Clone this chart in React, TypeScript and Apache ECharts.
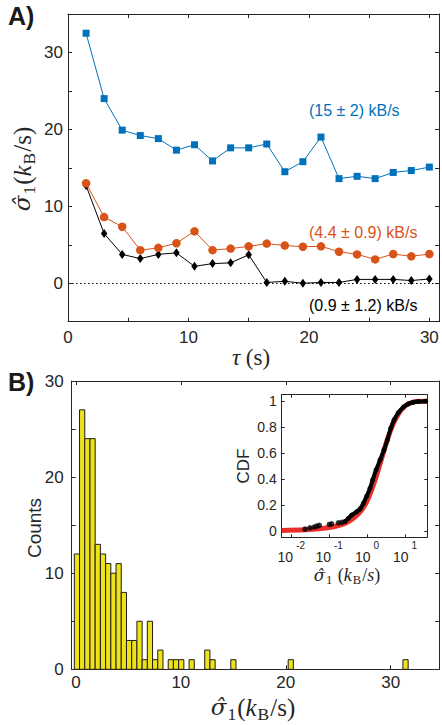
import React, { useEffect, useRef } from 'react';
import * as echarts from 'echarts';

// ---------- Panel A data ----------
const tau = [1.5, 3, 4.5, 6, 7.5, 9, 10.5, 12, 13.5, 15, 16.5, 18, 19.5, 21, 22.5, 24, 25.5, 27, 28.5, 30];
const blueVals = [32.5, 24.0, 19.9, 19.2, 18.8, 17.3, 18.0, 15.9, 17.6, 17.6, 18.1, 14.5, 15.8, 19.0, 13.6, 13.9, 13.6, 14.4, 14.65, 15.1];
const orangeVals = [13.0, 8.6, 7.35, 4.3, 4.6, 5.2, 6.75, 4.3, 4.5, 4.8, 5.15, 4.9, 4.75, 4.8, 4.1, 3.75, 3.1, 3.8, 3.5, 3.8];
const blackVals = [12.7, 6.45, 3.75, 3.2, 3.75, 3.95, 2.2, 2.55, 2.65, 3.7, 0.1, 0.25, 0.0, 0.1, 0.1, 0.5, 0.5, 0.5, 0.35, 0.55];
const annotations = ['(15 ± 2) kB/s', '(4.4 ± 0.9) kB/s', '(0.9 ± 1.2) kB/s'];

// ---------- Panel B histogram ----------
const histStart = -0.15;
const histBinWidth = 0.497;
const histCounts = [
  12, 27, 24, 24, 13, 12, 11, 10, 11, 8,
  3, 3, 5, 1, 5, 1, 2, 0, 1, 1,
  1, 0, 1, 0, 0, 2, 1, 0, 0, 0,
  1, 0, 0, 0, 0, 0, 0, 0, 0, 0,
  0, 1, 0, 0, 0, 0, 0, 0, 0, 0,
  0, 0, 0, 0, 0, 0, 0, 0, 0, 0,
  0, 0, 0, 1,
];

// ---------- Inset CDF ----------
const cdfSparseX = [0.023, 0.031, 0.040, 0.047, 0.055, 0.101, 0.116, 0.174, 0.214];
const cdfSparseY = [0.013, 0.023, 0.029, 0.036, 0.042, 0.049, 0.054, 0.062, 0.065];
const cdfDenseX = [0.261, 0.319, 0.39, 0.53, 0.65, 0.794, 0.977, 1.19, 1.40, 1.72, 2.19, 2.79, 3.41, 4.20, 5.13, 6.65, 9.02, 12.2, 16.6, 22.4, 35.2];
const cdfDenseY = [0.072, 0.096, 0.121, 0.147, 0.168, 0.212, 0.268, 0.328, 0.392, 0.469, 0.546, 0.624, 0.70, 0.791, 0.855, 0.912, 0.954, 0.979, 0.992, 0.997, 1.0];
const fitX = [0.0056, 0.023, 0.056, 0.128, 0.261, 0.433, 0.72, 1.07, 1.62, 2.43, 3.63, 5.45, 8.2, 12.2, 20.0, 38.7];
const fitY = [0.003, 0.008, 0.016, 0.031, 0.057, 0.096, 0.16, 0.25, 0.392, 0.56, 0.727, 0.855, 0.938, 0.979, 0.997, 1.0];

const SANS = '"Liberation Sans", Arial, Helvetica, sans-serif';
const SERIF = '"Liberation Serif", "Times New Roman", serif';
const HATSERIF = '"DejaVu Serif", "Liberation Serif", serif';
const AX = '#262626';
const BLUE = '#0072BD';
const ORANGE = '#D95319';

const tens = (v: number) => (Math.abs(v / 10 - Math.round(v / 10)) < 1e-6 ? String(Math.round(v)) : '');
const fifths = (v: number) => {
  const r = Math.round(v * 5);
  return Math.abs(v * 5 - r) < 1e-6 ? String(r / 5) : '';
};
const pow10 = (v: number) => {
  const e = Math.log10(v);
  const r = Math.round(e);
  return Math.abs(e - r) < 1e-6 ? `{b|10}{e|${r}}` : '';
};

const frame = (o: any) => ({
  splitLine: { show: false },
  ...o,
  axisLine: { show: true, onZero: false, lineStyle: { color: AX, width: 1 } },
  axisTick: { show: true, inside: true, length: o.tickLen || 4, lineStyle: { color: AX, width: 1 } },
});

const latexRich = (fs: number) => ({
  h: { fontFamily: HATSERIF, fontStyle: 'italic', fontSize: fs * 0.92, lineHeight: fs * 1.3, fill: AX, color: AX },
  i: { fontFamily: SERIF, fontStyle: 'italic', fontSize: fs, lineHeight: fs * 1.3, fill: AX, color: AX },
  n: { fontFamily: SERIF, fontSize: fs, lineHeight: fs * 1.3, fill: AX, color: AX },
  s: { fontFamily: SERIF, fontSize: fs * 0.7, lineHeight: fs * 0.7, verticalAlign: 'bottom', fill: AX, color: AX, padding: [0, 1, 0, 1] },
});

export default function App() {
  const ref = useRef<HTMLDivElement>(null);
  useEffect(() => {
    if (!ref.current) return;
    const chart = echarts.init(ref.current, null, { renderer: 'svg' });

    const histData = histCounts.map((c, i) => [histStart + i * histBinWidth, histStart + (i + 1) * histBinWidth, c]);

    const option: any = {
      animation: false,
      backgroundColor: '#fff',
      grid: [
        { left: 68, top: 14, width: 373.5, height: 307.7 },
        { left: 71.7, top: 381, width: 370.3, height: 288.3 },
        { left: 281.7, top: 394.7, width: 145.6, height: 142.6, show: true, backgroundColor: '#fff', borderWidth: 0 },
      ],
      xAxis: [
        frame({ type: 'value', gridIndex: 0, position: 'bottom', min: 0, max: 30.8, interval: 5,
          axisLabel: { show: true, formatter: tens, fontSize: 17, color: AX, fontFamily: SANS, margin: 7 } }),
        frame({ type: 'value', gridIndex: 0, position: 'top', min: 0, max: 30.8, interval: 5, axisLabel: { show: false } }),
        frame({ type: 'value', gridIndex: 1, position: 'bottom', min: -0.4, max: 34.6, minInterval: 10, maxInterval: 10,
          axisLabel: { show: true, formatter: tens, fontSize: 17, color: AX, fontFamily: SANS, margin: 5 } }),
        frame({ type: 'value', gridIndex: 1, position: 'top', min: -0.4, max: 34.6, minInterval: 10, maxInterval: 10, axisLabel: { show: false } }),
        frame({ type: 'log', logBase: 10, gridIndex: 2, position: 'bottom', min: 0.00558, max: 38.7, tickLen: 3,
          axisLabel: { show: true, formatter: pow10, margin: 3,
            rich: {
              b: { fontSize: 14, fontFamily: SANS, color: AX, lineHeight: 24, verticalAlign: 'bottom' },
              e: { fontSize: 10, fontFamily: SANS, color: AX, lineHeight: 9, verticalAlign: 'top', padding: [0, 0, 0, 3] },
            } } }),
        frame({ type: 'log', logBase: 10, gridIndex: 2, position: 'top', min: 0.00558, max: 38.7, tickLen: 3, axisLabel: { show: false } }),
      ],
      yAxis: [
        frame({ type: 'value', gridIndex: 0, position: 'left', min: -5, max: 35, interval: 5,
          axisLabel: { show: true, formatter: tens, fontSize: 17, color: AX, fontFamily: SANS, margin: 5 } }),
        frame({ type: 'value', gridIndex: 0, position: 'right', min: -5, max: 35, interval: 5, axisLabel: { show: false } }),
        frame({ type: 'value', gridIndex: 1, position: 'left', min: 0, max: 30, interval: 5,
          axisLabel: { show: true, formatter: tens, fontSize: 17, color: AX, fontFamily: SANS, margin: 8 } }),
        frame({ type: 'value', gridIndex: 1, position: 'right', min: 0, max: 30, interval: 5, axisLabel: { show: false } }),
        frame({ type: 'value', gridIndex: 2, position: 'left', min: -0.05, max: 1.05, minInterval: 0.2, maxInterval: 0.2, tickLen: 3,
          axisLabel: { show: true, formatter: fifths, fontSize: 14, color: AX, fontFamily: SANS, margin: 5 } }),
        frame({ type: 'value', gridIndex: 2, position: 'right', min: -0.05, max: 1.05, minInterval: 0.2, maxInterval: 0.2, tickLen: 3, axisLabel: { show: false } }),
      ],
      series: [
        {
          type: 'line', xAxisIndex: 0, yAxisIndex: 0,
          data: tau.map((t, i) => [t, blueVals[i]]),
          symbol: 'rect', symbolSize: 7, showSymbol: true,
          lineStyle: { color: BLUE, width: 1 }, itemStyle: { color: BLUE },
        },
        {
          type: 'line', xAxisIndex: 0, yAxisIndex: 0,
          data: tau.map((t, i) => [t, orangeVals[i]]),
          symbol: 'circle', symbolSize: 8.5, showSymbol: true,
          lineStyle: { color: ORANGE, width: 1 }, itemStyle: { color: ORANGE },
        },
        {
          type: 'line', xAxisIndex: 0, yAxisIndex: 0,
          data: tau.map((t, i) => [t, blackVals[i]]),
          symbol: 'diamond', symbolSize: [6.5, 9], showSymbol: true,
          lineStyle: { color: '#000', width: 1 }, itemStyle: { color: '#000' },
          markLine: {
            silent: true, symbol: ['none', 'none'], label: { show: false },
            lineStyle: { color: '#000', width: 1, type: [1.5, 2.5] },
            data: [{ yAxis: 0 }],
          },
          z: 1,
        },
        {
          type: 'custom', xAxisIndex: 2, yAxisIndex: 2,
          data: histData,
          encode: { x: [0, 1], y: 2 },
          renderItem: (params: any, api: any) => {
            const x0 = api.value(0), x1 = api.value(1), c = api.value(2);
            if (!c) return null;
            const p0 = api.coord([x0, c]);
            const p1 = api.coord([x1, 0]);
            return {
              type: 'rect',
              shape: { x: p0[0], y: p0[1], width: p1[0] - p0[0], height: p1[1] - p0[1] },
              style: { fill: '#EEE21A', stroke: '#1e1e1e', lineWidth: 1 },
            };
          },
        },
        {
          type: 'line', xAxisIndex: 4, yAxisIndex: 4,
          data: fitX.map((x, i) => [x, fitY[i]]),
          smooth: 0.4, showSymbol: false, symbol: 'none',
          lineStyle: { color: '#E8302A', width: 5 }, z: 2,
        },
        {
          type: 'line', xAxisIndex: 4, yAxisIndex: 4,
          data: cdfDenseX.map((x, i) => [x, cdfDenseY[i]]),
          smooth: 0.3, showSymbol: true, symbol: 'circle', symbolSize: 5,
          lineStyle: { color: '#000', width: 4 }, itemStyle: { color: '#000' }, z: 3,
        },
        {
          type: 'scatter', xAxisIndex: 4, yAxisIndex: 4,
          data: cdfSparseX.map((x, i) => [x, cdfSparseY[i]]),
          symbol: 'circle', symbolSize: 5.5,
          itemStyle: { color: '#000' }, z: 3,
        },
      ],
      graphic: [
        { type: 'text', x: 8, y: 16, style: { text: 'A)', fontSize: 25, fontWeight: 'bold', fontFamily: SANS, fill: '#1a1a1a', verticalAlign: 'middle' } },
        { type: 'text', x: 8, y: 382, style: { text: 'B)', fontSize: 25, fontWeight: 'bold', fontFamily: SANS, fill: '#1a1a1a', verticalAlign: 'middle' } },
        { type: 'text', x: 309, y: 110, style: { text: annotations[0], fontSize: 16, fontFamily: SANS, fill: BLUE, verticalAlign: 'middle' } },
        { type: 'text', x: 309, y: 232, style: { text: annotations[1], fontSize: 16, fontFamily: SANS, fill: ORANGE, verticalAlign: 'middle' } },
        { type: 'text', x: 309, y: 305, style: { text: annotations[2], fontSize: 16, fontFamily: SANS, fill: '#000', verticalAlign: 'middle' } },
        {
          type: 'text', x: 22, y: 169, rotation: Math.PI / 2,
          style: { text: '{h|\u03C3\u0302}{s|1}{n|(}{i|k}{s|B}{n|/s)}', rich: latexRich(25), align: 'center', verticalAlign: 'middle' },
        },
        {
          type: 'text', x: 251, y: 357,
          style: { text: '{i|\u03C4}{n| (s)}', rich: latexRich(23), align: 'center', verticalAlign: 'middle' },
        },
        {
          type: 'text', x: 253, y: 707,
          style: { text: '{h|\u03C3\u0302}{s|1}{n|(}{i|k}{s|B}{n|/s)}', rich: latexRich(25), align: 'center', verticalAlign: 'middle' },
        },
        {
          type: 'text', x: 34, y: 528, rotation: Math.PI / 2,
          style: { text: 'Counts', fontSize: 19, fontFamily: SANS, fill: AX, align: 'center', verticalAlign: 'middle' },
        },
        {
          type: 'text', x: 243.5, y: 466, rotation: Math.PI / 2,
          style: { text: 'CDF', fontSize: 17, fontFamily: SANS, fill: AX, align: 'center', verticalAlign: 'middle' },
        },
        {
          type: 'text', x: 347, y: 575,
          style: { text: '{h|\u03C3\u0302}{s|1}{n| (}{i|k}{s|B}{n|/}{i|s}{n|)}', rich: latexRich(18), align: 'center', verticalAlign: 'middle' },
        },
      ],
    };
    chart.setOption(option);
    return () => chart.dispose();
  }, []);

  return <div ref={ref} style={{ position: 'fixed', left: 0, top: 0, width: 442, height: 725, background: '#fff' }} />;
}
